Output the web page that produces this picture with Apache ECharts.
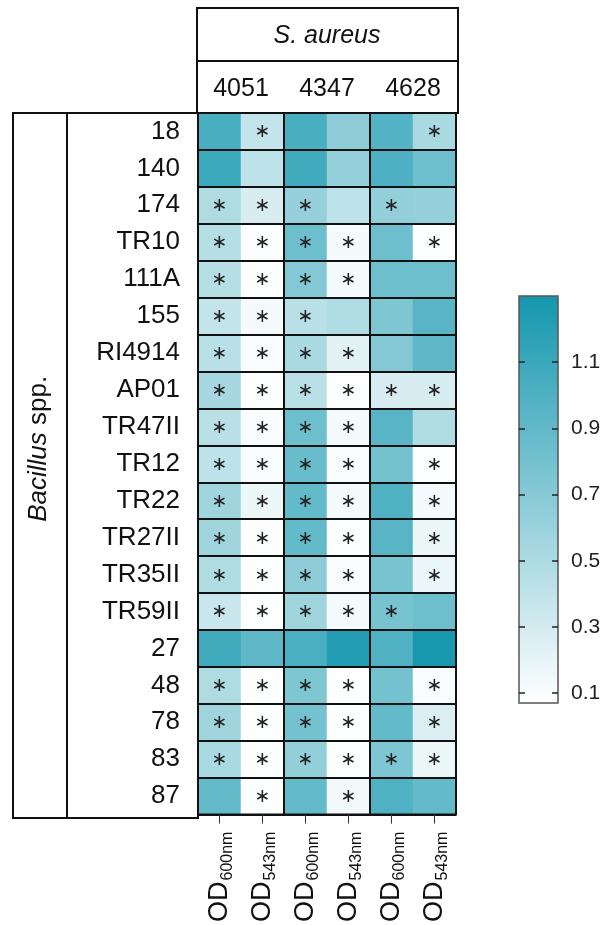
<!DOCTYPE html>
<html>
<head>
<meta charset="utf-8">
<script src="https://cdn.jsdelivr.net/npm/echarts@6/dist/echarts.min.js"></script>
<style>
  html, body { margin: 0; padding: 0; background: #fff; }
  #chart { width: 606px; height: 925px; }
</style>
</head>
<body>
<div id="chart"></div>
<script>
// rows (Bacillus isolates), top to bottom
const isolates = ["18", "140", "174", "TR10", "111A", "155", "RI4914", "AP01", "TR47II",
  "TR12", "TR22", "TR27II", "TR35II", "TR59II", "27", "48", "78", "83", "87"];

// S. aureus strains and read-out wavelengths
const strains = ["4051", "4347", "4628"];
const wavelengths = ["600", "543"];

// OD values per column
const od600_4051 = [1.03, 1.09, 0.49, 0.46, 0.46, 0.39, 0.44, 0.54, 0.44, 0.41, 0.57, 0.57, 0.49, 0.36, 1.07, 0.49, 0.57, 0.52, 0.89];
const od543_4051 = [0.39, 0.41, 0.28, 0.09, 0.08, 0.12, 0.10, 0.08, 0.10, 0.10, 0.17, 0.08, 0.08, 0.08, 0.91, 0.08, 0.08, 0.08, 0.08];
const od600_4347 = [1.03, 1.07, 0.62, 0.83, 0.72, 0.44, 0.52, 0.44, 0.83, 0.86, 0.89, 0.89, 0.67, 0.57, 1.02, 0.75, 0.80, 0.64, 0.89];
const od543_4347 = [0.67, 0.62, 0.41, 0.12, 0.12, 0.49, 0.23, 0.08, 0.12, 0.10, 0.12, 0.08, 0.10, 0.12, 1.23, 0.08, 0.08, 0.08, 0.14];
const od600_4628 = [0.97, 1.00, 0.64, 0.83, 0.83, 0.75, 0.72, 0.28, 0.94, 0.80, 0.99, 0.94, 0.78, 0.78, 0.99, 0.80, 0.89, 0.75, 0.99];
const od543_4628 = [0.52, 0.83, 0.62, 0.08, 0.83, 0.94, 0.91, 0.28, 0.49, 0.08, 0.12, 0.17, 0.18, 0.83, 1.29, 0.10, 0.26, 0.17, 0.89];

// significance marks (1 = asterisk)
const sig600_4051 = [0, 0, 1, 1, 1, 1, 1, 1, 1, 1, 1, 1, 1, 1, 0, 1, 1, 1, 0];
const sig543_4051 = [1, 0, 1, 1, 1, 1, 1, 1, 1, 1, 1, 1, 1, 1, 0, 1, 1, 1, 1];
const sig600_4347 = [0, 0, 1, 1, 1, 1, 1, 1, 1, 1, 1, 1, 1, 1, 0, 1, 1, 1, 0];
const sig543_4347 = [0, 0, 0, 1, 1, 0, 1, 1, 1, 1, 1, 1, 1, 1, 0, 1, 1, 1, 1];
const sig600_4628 = [0, 0, 1, 0, 0, 0, 0, 1, 0, 0, 0, 0, 0, 1, 0, 0, 0, 1, 0];
const sig543_4628 = [1, 0, 0, 1, 0, 0, 0, 1, 0, 1, 1, 1, 1, 0, 0, 1, 1, 1, 0];

// colour scale range and labelled ticks (0.1 .. 1.1 step 0.2)
const scaleMin = 0.07, scaleMax = 1.3;
const tickFirst = 0.1, tickLast = 1.1, tickStep = 0.2;

const columns = [od600_4051, od543_4051, od600_4347, od543_4347, od600_4628, od543_4628];
const sigs = [sig600_4051, sig543_4051, sig600_4347, sig543_4347, sig600_4628, sig543_4628];
const colNames = [];
strains.forEach(s => wavelengths.forEach(w => colNames.push(s + " OD" + w)));

const heatData = [];
columns.forEach((col, x) => {
  col.forEach((v, y) => heatData.push([x, y, v, sigs[x][y]]));
});

const FONT = "Liberation Sans, Arial, sans-serif";
const INK = "#111";

// colour bar geometry; the tick axis grid covers only the 0.1..1.1 span of the bar
const BAR = { left: 519, top: 296, width: 39, height: 407 };
const pxPerUnit = BAR.height / (scaleMax - scaleMin);
const tickGridTop = BAR.top + (scaleMax - tickLast) * pxPerUnit;
const tickGridHeight = (tickLast - tickFirst) * pxPerUnit;

const chart = echarts.init(document.getElementById("chart"));

const barTick = { show: true, inside: true, length: 6, lineStyle: { color: "#222", width: 1.5 } };

chart.setOption({
  backgroundColor: "#fff",
  animation: false,
  textStyle: { fontFamily: FONT },
  grid: [
    { left: 198, top: 113, width: 258, height: 705, show: true, borderColor: INK, borderWidth: 2, z: 10, backgroundColor: "transparent" },
    { left: BAR.left, top: BAR.top, width: BAR.width, height: BAR.height, show: true, borderColor: "#555", borderWidth: 1.5, z: 20, backgroundColor: "transparent" },
    { left: BAR.left, top: tickGridTop, width: BAR.width, height: tickGridHeight, show: false },
  ],
  xAxis: [
    {
      type: "category", gridIndex: 0, data: colNames, position: "bottom", z: 10,
      axisLine: { show: false, onZero: false },
      splitLine: { show: true, interval: i => i % 2 === 0, lineStyle: { color: INK, width: 2 } },
      axisTick: { show: true, alignWithLabel: true, length: 9, lineStyle: { color: "#333", width: 1 } },
      axisLabel: {
        rotate: 90, margin: 17, interval: 0,
        formatter: (v, i) => "{od|OD}{sub|" + wavelengths[i % 2] + "nm}",
        rich: {
          od: { fontSize: 27, color: INK, fontFamily: FONT, verticalAlign: "bottom" },
          sub: { fontSize: 16, color: INK, fontFamily: FONT, verticalAlign: "bottom", padding: [0, 0, -3, 1] },
        },
      },
    },
    {
      type: "category", gridIndex: 0, data: strains, position: "top", z: 10,
      axisLine: { show: false, onZero: false }, axisTick: { show: false }, splitLine: { show: false },
      axisLabel: { fontSize: 25, color: INK, margin: 11 },
      name: "S. aureus", nameLocation: "middle", nameGap: 64,
      nameTextStyle: { fontSize: 25, fontStyle: "italic", color: INK },
    },
    { type: "value", gridIndex: 1, show: false, min: 0, max: 1 },
    { type: "value", gridIndex: 2, show: false, min: 0, max: 1, axisLine: { onZero: false } },
  ],
  yAxis: [
    {
      type: "category", gridIndex: 0, data: isolates, inverse: true, z: 10,
      axisLine: { show: false, onZero: false }, axisTick: { show: false },
      splitLine: { show: true, lineStyle: { color: INK, width: 2 } },
      axisLabel: { fontSize: 26, color: INK, margin: 18 },
      name: "{i|Bacillus} spp.", nameLocation: "middle", nameRotate: 90, nameGap: 146,
      nameTextStyle: {
        fontSize: 26, color: INK, padding: [0, 0, 0, 30],
        rich: { i: { fontSize: 26, fontStyle: "italic", color: INK } },
      },
    },
    { type: "value", gridIndex: 1, show: false, min: scaleMin, max: scaleMax },
    {
      type: "value", gridIndex: 2, position: "right", min: tickFirst, max: tickLast, interval: tickStep, z: 20,
      axisLine: { show: false, onZero: false }, splitLine: { show: false },
      axisTick: barTick,
      axisLabel: { fontSize: 21, color: "#222", margin: 13, showMinLabel: true, showMaxLabel: true, formatter: v => v.toFixed(1) },
    },
    {
      type: "value", gridIndex: 2, position: "left", min: tickFirst, max: tickLast, interval: tickStep, z: 20,
      axisLine: { show: false, onZero: false }, splitLine: { show: false },
      axisTick: barTick,
      axisLabel: { show: false },
    },
  ],
  visualMap: {
    type: "continuous", seriesIndex: 0, min: scaleMin, max: scaleMax, dimension: 2,
    orient: "vertical", left: BAR.left - 5, top: BAR.top - 5, itemWidth: BAR.width, itemHeight: BAR.height,
    padding: 5, calculable: false, text: null, showLabel: false, z: 1,
    inRange: { color: ["#ffffff", "#1597ae"] },
  },
  graphic: [
    { type: "rect", shape: { x: 197, y: 8, width: 261, height: 105 }, style: { fill: "none", stroke: INK, lineWidth: 2 } },
    { type: "line", shape: { x1: 197, y1: 61, x2: 458, y2: 61 }, style: { stroke: INK, lineWidth: 2 } },
    { type: "rect", shape: { x: 13, y: 113, width: 185, height: 705 }, style: { fill: "none", stroke: INK, lineWidth: 2 } },
    { type: "line", shape: { x1: 67, y1: 113, x2: 67, y2: 818 }, style: { stroke: INK, lineWidth: 2 } },
  ],
  series: [{
    type: "heatmap", xAxisIndex: 0, yAxisIndex: 0,
    data: heatData,
    label: {
      show: true, fontSize: 19, color: "#222", fontFamily: "DejaVu Sans", offset: [0, 1],
      formatter: p => (p.data[3] ? "\u2217" : ""),
    },
    itemStyle: { borderWidth: 0 },
    emphasis: { disabled: true },
  }],
});
</script>
</body>
</html>
